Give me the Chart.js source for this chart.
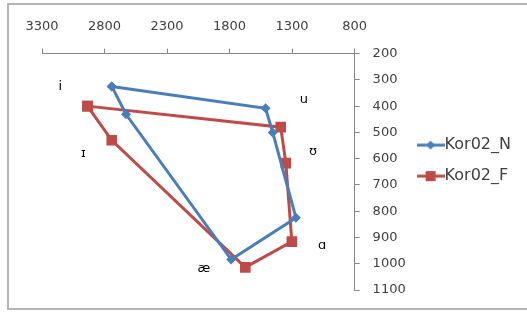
<!DOCTYPE html>
<html>
<head>
<meta charset="utf-8">
<script src="https://cdn.jsdelivr.net/npm/chart.js@4"></script>
<style>
  html, body { margin: 0; padding: 0; background: #fff; }
  #wrap { position: relative; width: 527px; height: 313px; overflow: hidden; }
  #frame { position: absolute; left: 7px; top: 3px; width: 530px; height: 307px; border: 2px solid #b4b4b4; box-sizing: border-box; pointer-events: none; }
  canvas { position: absolute; left: 0; top: 0; }
</style>
</head>
<body>
<div id="wrap">
  <canvas id="myChart" width="527" height="313"></canvas>
  <div id="frame"></div>
</div>
<script>
    // Vowel chart - F2 (x, reversed, top) vs F1 (y, reversed, right)
    // order of points: i, u, ʊ, ɑ, æ, ɪ, back to i

    const seriesNames = ['Kor02_N', 'Kor02_F'];

    const f2N = [2742, 1512, 1455, 1269, 1787, 2628, 2742];
    const f1N = [325, 408, 500, 825, 984, 431, 325];

    const f2F = [2936, 1391, 1350, 1302, 1674, 2742, 2936];
    const f1F = [400, 480, 617, 916, 1014, 530, 400];

    const xTicks = [3300, 2800, 2300, 1800, 1300, 800];
    const yTicks = [200, 300, 400, 500, 600, 700, 800, 900, 1000, 1100];

    // vowel symbols and where they sit (F2, F1)
    const vowels = ['i', 'ɪ', 'u', 'ʊ', 'ɑ', 'æ'];
    const vowelF2 = [3154, 2968, 1205, 1132, 1059, 2006];
    const vowelF1 = [325, 579, 374, 575, 931, 1018];

    const blue = '#4a7ebb';
    const red = '#be4b48';

    function toPoints(xs, ys) {
        return xs.map((x, i) => ({ x: x, y: ys[i] }));
    }

    // little line + marker icons for the legend, like excel does
    function legendIcon(color, style) {
        const c = document.createElement('canvas');
        c.width = 28;
        c.height = 12;
        const g = c.getContext('2d');
        g.strokeStyle = color;
        g.lineWidth = 3;
        g.beginPath();
        g.moveTo(0, 6);
        g.lineTo(28, 6);
        g.stroke();
        g.fillStyle = color;
        if (style === 'diamond') {
            g.beginPath();
            g.moveTo(14, 1.5);
            g.lineTo(18.5, 6);
            g.lineTo(14, 10.5);
            g.lineTo(9.5, 6);
            g.closePath();
            g.fill();
        } else {
            g.fillRect(9, 1, 10, 10);
        }
        return c;
    }
    const icons = [legendIcon(blue, 'diamond'), legendIcon(red, 'square')];

    const vowelLabels = {
        id: 'vowelLabels',
        afterDatasetsDraw(chart) {
            const ctx = chart.ctx;
            const xs = chart.scales.x;
            const ys = chart.scales.y;
            ctx.save();
            ctx.fillStyle = '#000';
            ctx.font = '13px "DejaVu Sans"';
            ctx.textAlign = 'center';
            ctx.textBaseline = 'middle';
            vowels.forEach((v, i) => {
                ctx.fillText(v, xs.getPixelForValue(vowelF2[i]), ys.getPixelForValue(vowelF1[i]));
            });
            ctx.restore();
        }
    };

    const data = {
        datasets: [{
            label: seriesNames[0],
            data: toPoints(f2N, f1N),
            borderColor: blue,
            backgroundColor: blue,
            borderWidth: 3,
            pointStyle: 'rectRot',
            pointRadius: 5,
            pointBorderWidth: 0,
            showLine: true,
        }, {
            label: seriesNames[1],
            data: toPoints(f2F, f1F),
            borderColor: red,
            backgroundColor: red,
            borderWidth: 3,
            pointStyle: 'rect',
            pointRadius: 7.5,
            pointBorderWidth: 0,
            showLine: true,
        }]
    };

    const tickColor = '#404040';

    const config = {
        type: 'scatter',
        data: data,
        plugins: [vowelLabels],
        options: {
            responsive: false,
            animation: false,
            layout: {
                padding: { left: 42, top: 5, right: 6, bottom: 23 }
            },
            scales: {
                x: {
                    type: 'linear',
                    position: 'top',
                    reverse: true,
                    min: 800,
                    max: 3300,
                    afterBuildTicks(axis) {
                        axis.ticks = xTicks.map(v => ({ value: v }));
                    },
                    ticks: {
                        color: tickColor,
                        font: { family: 'DejaVu Sans', size: 13 },
                        padding: 14,
                        maxRotation: 0,
                        callback: v => String(v)
                    },
                    grid: {
                        drawOnChartArea: false,
                        tickLength: 5,
                        color: '#868686'
                    },
                    border: { color: '#868686', width: 1 }
                },
                y: {
                    type: 'linear',
                    position: 'right',
                    reverse: true,
                    min: 200,
                    max: 1100,
                    afterBuildTicks(axis) {
                        axis.ticks = yTicks.map(v => ({ value: v }));
                    },
                    afterFit(axis) {
                        axis.width = 55;
                    },
                    ticks: {
                        color: tickColor,
                        font: { family: 'DejaVu Sans', size: 13 },
                        padding: 13,
                        callback: v => String(v)
                    },
                    grid: {
                        drawOnChartArea: false,
                        tickLength: 5,
                        color: '#868686'
                    },
                    border: { color: '#868686', width: 1 }
                }
            },
            plugins: {
                legend: {
                    position: 'right',
                    title: {
                        display: true,
                        text: ' ',
                        font: { size: 1 },
                        padding: { top: 13, bottom: 12 }
                    },
                    labels: {
                        color: '#404040',
                        font: { family: 'DejaVu Sans', size: 16 },
                        usePointStyle: true,
                        pointStyleWidth: 12,
                        padding: 15,
                        generateLabels(chart) {
                            const items = Chart.defaults.plugins.legend.labels.generateLabels(chart);
                            items.forEach((it, i) => { it.pointStyle = icons[i]; });
                            return items;
                        }
                    }
                },
                tooltip: { enabled: false }
            }
        }
    };

    const myChart = new Chart(
        document.getElementById('myChart'),
        config
    );
</script>
</body>
</html>
